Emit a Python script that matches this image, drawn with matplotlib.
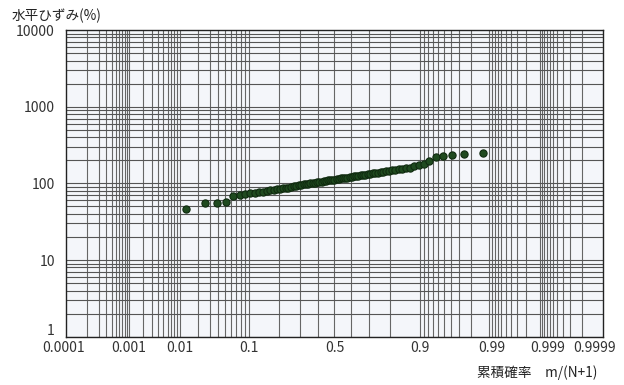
from statistics import NormalDist

import matplotlib
matplotlib.use("Agg")
import matplotlib.pyplot as plt
import matplotlib.transforms as mtransforms
import numpy as np

plt.rcParams["font.family"] = ["Noto Sans CJK JP", "DejaVu Sans"]
plt.rcParams["axes.unicode_minus"] = False

# 水平ひずみ (%) , 小さい順 (m = 1..N)
strain = [46, 56, 56, 57, 68, 70, 72, 74, 75, 76,
          78, 80, 81, 82, 84, 85, 86, 87, 88, 89,
          92, 93, 94, 96, 97, 98, 99, 100, 101, 102,
          103, 104, 105, 107, 108, 109, 110, 111, 112, 113,
          115, 116, 117, 118, 119, 121, 122, 123, 125, 126,
          127, 129, 130, 132, 133, 135, 137, 138, 140, 142,
          144, 146, 148, 150, 153, 155, 158, 161, 166, 171,
          179, 195, 218, 227, 232, 241, 246]

x_ticks = [0.0001, 0.001, 0.01, 0.1, 0.5, 0.9, 0.99, 0.999, 0.9999]
x_labels = ["0.0001", "0.001", "0.01", "0.1", "0.5", "0.9", "0.99", "0.999", "0.9999"]
y_ticks = [1, 10, 100, 1000, 10000]

nd = NormalDist()


def zscore(p):
    return np.array([nd.inv_cdf(v) for v in np.atleast_1d(p)])


N = len(strain)
m = np.arange(1, N + 1)
prob = m / (N + 1)

# 確率紙のグリッド
grid_p = []
for base in [0.0001, 0.001, 0.01, 0.1]:
    grid_p += [base * k for k in range(1, 10)]
grid_p += [0.9 + 0.01 * k for k in range(1, 10)]
grid_p += [0.99 + 0.001 * k for k in range(1, 10)]
grid_p += [0.999 + 0.0001 * k for k in range(1, 10)]
grid_y = [k * 10 ** d for d in range(0, 4) for k in range(1, 10)]

fig = plt.figure(figsize=(6.24, 3.85), dpi=100)
ax = fig.add_axes([0.1058, 0.1255, 0.8605, 0.7965])
ax.set_facecolor("#f4f6fa")
ax.set_yscale("log")
ax.set_xlim(-4.04, 4.04)
ax.set_ylim(1, 10000)

for z in zscore(grid_p):
    ax.axvline(z, color="#666666", lw=0.8, zorder=1)
for yv in grid_y:
    ax.axhline(yv, color="#555555", lw=0.8, zorder=1)

ax.plot(zscore(prob), strain, "o", ms=5.2, mfc="#1f4a1f", mec="#0f2a0f",
        mew=0.8, zorder=3)

ax.set_xticks(zscore(x_ticks))
ax.set_xticklabels(x_labels, fontsize=10, color="#333333")
ax.set_yticks(y_ticks)
ax.set_yticklabels([str(v) for v in y_ticks], fontsize=10, color="#333333")
ax.minorticks_off()
ax.tick_params(axis="both", length=0)
ax.tick_params(axis="x", pad=3)
ax.tick_params(axis="y", pad=8)

# 端のラベル位置の微調整
shift = {0: -24, 6: 3, 7: 8, 8: 13}
for i, lab in enumerate(ax.get_xticklabels()):
    if i in shift:
        off = mtransforms.ScaledTranslation(shift[i] / 100, 0, fig.dpi_scale_trans)
        lab.set_transform(lab.get_transform() + off)
ylab0 = ax.get_yticklabels()[0]
ylab0.set_transform(ylab0.get_transform()
                    + mtransforms.ScaledTranslation(0, 0.07, fig.dpi_scale_trans))

for s in ax.spines.values():
    s.set_color("#222222")
    s.set_linewidth(1.0)

fig.text(0.018, 0.958, "水平ひずみ(%)", fontsize=9.8, color="#222222",
         va="center", ha="left")
fig.text(0.957, 0.032, "累積確率　m/(N+1)", fontsize=9.8, color="#222222",
         va="center", ha="right")

fig.savefig("out.png", dpi=100)
